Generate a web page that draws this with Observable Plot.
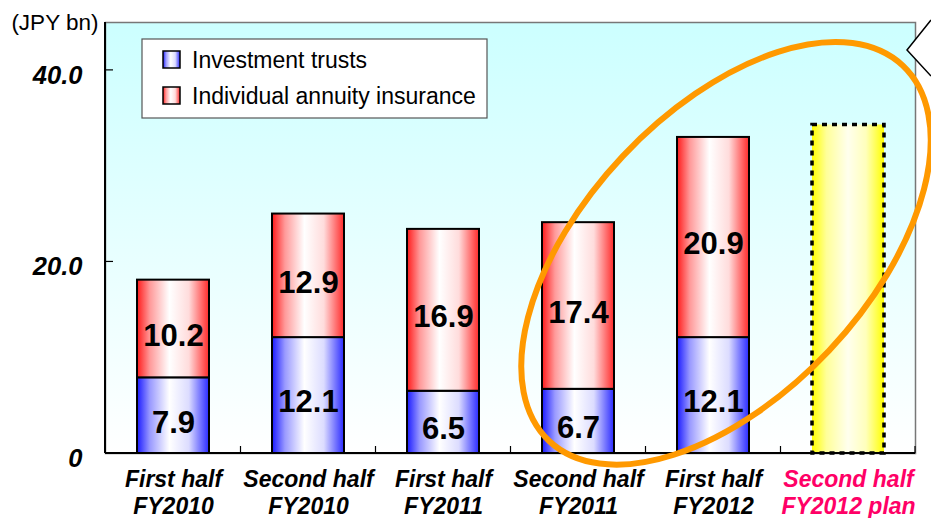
<!DOCTYPE html>
<html><head><meta charset="utf-8">
<script src="https://cdn.jsdelivr.net/npm/d3@7"></script>
<script src="https://cdn.jsdelivr.net/npm/@observablehq/plot@0.6"></script>
<style>
body{margin:0;background:#fff;font-family:"Liberation Sans",Arial,sans-serif;}
#chart svg{overflow:visible;}
</style></head><body>
<svg width="0" height="0" style="position:absolute"><defs>
<linearGradient id="gbg" x1="0" x2="0" y1="0" y2="1">
 <stop offset="0" stop-color="#ccffff"/><stop offset="1" stop-color="#ffffff"/>
</linearGradient>
<linearGradient id="gblue" x1="0" x2="1" y1="0" y2="0">
 <stop offset="0" stop-color="#1a1aff"/><stop offset="0.18" stop-color="#9a9aff"/><stop offset="0.45" stop-color="#ffffff"/><stop offset="0.72" stop-color="#dcdcff"/><stop offset="1" stop-color="#2a2aff"/>
</linearGradient>
<linearGradient id="gred" x1="0" x2="1" y1="0" y2="0">
 <stop offset="0" stop-color="#ff1a1a"/><stop offset="0.18" stop-color="#ff9a9a"/><stop offset="0.45" stop-color="#ffffff"/><stop offset="0.72" stop-color="#ffdcdc"/><stop offset="1" stop-color="#ff2a2a"/>
</linearGradient>
<linearGradient id="gyellow" x1="0" x2="1" y1="0" y2="0">
 <stop offset="0" stop-color="#ffff00"/><stop offset="0.2" stop-color="#ffff99"/><stop offset="0.5" stop-color="#ffffee"/><stop offset="0.75" stop-color="#ffffbb"/><stop offset="1" stop-color="#ffff00"/>
</linearGradient>
</defs></svg>
<div id="chart"></div>
<script>
const categories = ["First half\nFY2010","Second half\nFY2010","First half\nFY2011","Second half\nFY2011","First half\nFY2012","Second half\nFY2012 plan"];
const trusts = [7.9, 12.1, 6.5, 6.7, 12.1];
const annuity = [10.2, 12.9, 16.9, 17.4, 20.9];
const planValue = 34.3;
const yTicks = [0, 20, 40];
const yTickLabels = ["0", "20.0", "40.0"];
const seriesNames = ["Investment trusts", "Individual annuity insurance"];
const unitLabel = "(JPY bn)";

const rows = trusts.map((t, i) => ({cat: categories[i], t, a: annuity[i], total: t + annuity[i]}));
const planRow = [{cat: categories[5], v: planValue}];

const font = "Liberation Sans, Arial, sans-serif";
const M = {top: 22, right: 16, bottom: 65, left: 105};
const chart = Plot.plot({
  width: 931, height: 518,
  marginTop: M.top, marginRight: M.right, marginBottom: M.bottom, marginLeft: M.left,
  style: {fontFamily: font, background: "transparent", overflow: "visible"},
  x: {domain: categories, paddingInner: 0.47, paddingOuter: 0.235, axis: null},
  y: {domain: [0, 45], axis: null},
  marks: [
    Plot.frame({fill: "url(#gbg)", stroke: "#777", strokeWidth: 1.5}),
    Plot.barY(rows, {x: "cat", y1: 0, y2: "t", fill: "url(#gblue)", stroke: "black", strokeWidth: 2}),
    Plot.barY(rows, {x: "cat", y1: "t", y2: "total", fill: "url(#gred)", stroke: "black", strokeWidth: 2}),
    Plot.barY(planRow, {x: "cat", y1: 0, y2: "v", fill: "url(#gyellow)", stroke: "black", strokeWidth: 3.5, strokeDasharray: "5,5"}),
    Plot.text(rows, {x: "cat", y: d => d.t / 2, text: d => d.t.toFixed(1), fontSize: 31, fontWeight: "bold", fill: "black", dy: 7}),
    Plot.text(rows, {x: "cat", y: d => d.t + d.a / 2, text: d => d.a.toFixed(1), fontSize: 31, fontWeight: "bold", fill: "black", dy: 7}),
    Plot.text(categories.slice(0, 5), {x: d => d, text: d => d, frameAnchor: "bottom", lineAnchor: "top", dy: 15, fontSize: 23, fontWeight: "bold", fontStyle: "italic", lineHeight: 1.15, fill: "black"}),
    Plot.text(categories.slice(5), {x: d => d, text: d => d, frameAnchor: "bottom", lineAnchor: "top", dy: 15, fontSize: 23, fontWeight: "bold", fontStyle: "italic", lineHeight: 1.15, fill: "#ff0066"}),
    Plot.text(yTicks, {y: d => d, text: (d, i) => yTickLabels[i], frameAnchor: "left", textAnchor: "end", dx: -23, dy: 5, fontSize: 25.5, fontWeight: "bold", fontStyle: "italic", fill: "black"}),
    Plot.text([unitLabel], {text: d => d, frameAnchor: "top-left", textAnchor: "end", lineAnchor: "middle", dx: -7, dy: 0, fontSize: 22.5, fill: "black"})
  ]
});
document.getElementById("chart").appendChild(chart);

const svg = d3.select(chart);
const xs = chart.scale("x"), ys = chart.scale("y");
const step = xs.step, bw = xs.bandwidth;
const pLeft = M.left, pRight = 931 - M.right, pTop = M.top, pBottom = 518 - M.bottom;

// axes lines and ticks
const g = svg.append("g");
g.append("line").attr("x1", pLeft).attr("x2", pLeft).attr("y1", pTop).attr("y2", pBottom).attr("stroke", "black").attr("stroke-width", 2);
g.append("line").attr("x1", pLeft).attr("x2", pRight).attr("y1", pBottom).attr("y2", pBottom).attr("stroke", "black").attr("stroke-width", 2);
yTicks.forEach(v => {
  g.append("line").attr("x1", pLeft).attr("x2", pLeft + 8).attr("y1", ys.apply(v)).attr("y2", ys.apply(v)).attr("stroke", "black").attr("stroke-width", 1.2);
});
categories.slice(1).forEach(c => {
  const xb = xs.apply(c) - (step - bw) / 2;
  g.append("line").attr("x1", xb).attr("x2", xb).attr("y1", pBottom).attr("y2", pBottom - 7).attr("stroke", "black").attr("stroke-width", 1.2);
});
g.append("line").attr("x1", pRight).attr("x2", pRight).attr("y1", pBottom).attr("y2", pBottom - 7).attr("stroke", "black").attr("stroke-width", 1.2);

// legend
const lg = svg.append("g");
lg.append("rect").attr("x", 142).attr("y", 39).attr("width", 345).attr("height", 79).attr("fill", "white").attr("stroke", "#555").attr("stroke-width", 1.2);
const fills = ["url(#gblue)", "url(#gred)"];
seriesNames.forEach((name, i) => {
  const yy = 51 + i * 36;
  lg.append("rect").attr("x", 163).attr("y", yy).attr("width", 17).attr("height", 17).attr("fill", fills[i]).attr("stroke", "black").attr("stroke-width", 1.5);
  lg.append("text").attr("x", 192).attr("y", yy + 17)
    .style("font-size", "23px").style("font-family", font).style("text-anchor", "start")
    .attr("fill", "black").text(name);
});

// orange ellipse highlight
const cx = xs.apply(categories[4]) + bw / 2 + 13;
const cy = ys.apply(20.85);
svg.append("ellipse").attr("cx", cx).attr("cy", cy).attr("rx", step * 1.91).attr("ry", step * 1.05)
  .attr("transform", `rotate(-46.7 ${cx} ${cy})`)
  .attr("fill", "none").attr("stroke", "#ff9900").attr("stroke-width", 6);

// callout edge at top right
svg.append("path").attr("d", `M931,20 L907,50 L931,76`).attr("fill", "white").attr("stroke", "black").attr("stroke-width", 1.5);
</script>
</body></html>
